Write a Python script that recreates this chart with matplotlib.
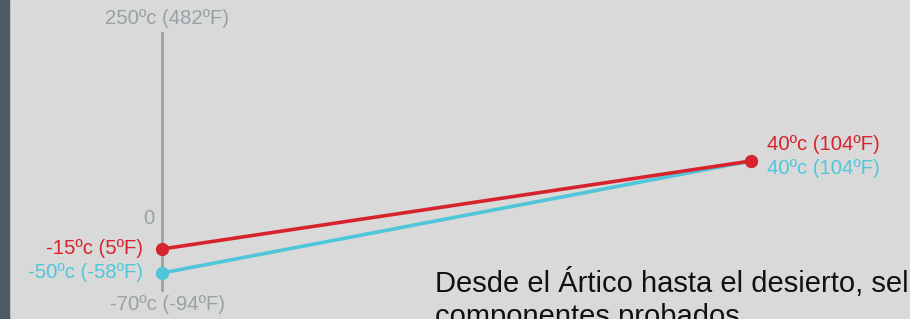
import numpy as np
import matplotlib
matplotlib.use("Agg")
import matplotlib.pyplot as plt
from matplotlib.patches import Rectangle

# data
points = ["start", "end"]
low_temp = [-50, 40]      # cyan series (ºc)
mid_temp = [-15, 40]      # red series (ºc)
low_labels = ["-50ºc (-58ºF)", "40ºc (104ºF)"]
mid_labels = ["-15ºc (5ºF)", "40ºc (104ºF)"]
axis_top = 250
axis_bottom = -70
axis_top_label = "250ºc (482ºF)"
axis_bottom_label = "-70ºc (-94ºF)"
caption = ["Desde el Ártico hasta el desierto, sel", "componentes probados"]

# the infographic axis is not linear, so map it piecewise
scale_vals = [-70, -50, -15, 0, 40, 250]
scale_pos = [0, 17, 41, 72, 129, 257]

def fwd(v):
    return np.interp(v, scale_vals, scale_pos)

def inv(p):
    return np.interp(p, scale_pos, scale_vals)

bg = "#d9d9d9"
red = "#d7232d"
cyan = "#50c6da"
grey = "#97a2a5"

plt.rcParams["font.family"] = ["Liberation Sans", "DejaVu Sans"]

W, H = 910, 319
fig = plt.figure(figsize=(W / 100, H / 100), dpi=100)
fig.patch.set_facecolor(bg)
fig.patches.append(Rectangle((0, 0), 9 / W, 1, transform=fig.transFigure,
                             color="#4b5b67", zorder=0))

ax = fig.add_axes([162 / W, (H - 290) / H, (751 - 162) / W, 257 / H])
ax.set_facecolor("none")
ax.set_yscale("function", functions=(fwd, inv))
ax.set_ylim(axis_bottom, axis_top)
ax.set_xlim(0, 1)
x = np.arange(len(points))

for s in ["top", "right", "bottom"]:
    ax.spines[s].set_visible(False)
ax.spines["left"].set_color(grey)
ax.spines["left"].set_linewidth(2)
ax.set_xticks([])
ax.set_yticks([])

ax.plot(x, low_temp, color=cyan, lw=2.6, marker="o", ms=8.5, clip_on=False, zorder=3)
ax.plot(x, mid_temp, color=red, lw=2.6, marker="o", ms=8.5, clip_on=False, zorder=4)

fs = 14.6
ax.annotate(axis_top_label, (0, axis_top), xytext=(5, 14), textcoords="offset pixels",
            ha="center", va="center", color=grey, fontsize=fs)
ax.annotate(axis_bottom_label, (0, axis_bottom), xytext=(6, -15), textcoords="offset pixels",
            ha="center", va="center", color=grey, fontsize=fs)
ax.annotate("0", (0, 0), xytext=(-8, 0), textcoords="offset pixels",
            ha="right", va="center", color=grey, fontsize=fs)

ax.annotate(mid_labels[0], (0, mid_temp[0]), xytext=(-19, 0), textcoords="offset pixels",
            ha="right", va="center", color=red, fontsize=fs)
ax.annotate(low_labels[0], (0, low_temp[0]), xytext=(-19, 0), textcoords="offset pixels",
            ha="right", va="center", color=cyan, fontsize=fs)
ax.annotate(mid_labels[1], (1, mid_temp[1]), xytext=(16, 16), textcoords="offset pixels",
            ha="left", va="center", color=red, fontsize=fs)
ax.annotate(low_labels[1], (1, low_temp[1]), xytext=(16, -7), textcoords="offset pixels",
            ha="left", va="center", color=cyan, fontsize=fs)

fig.text(435 / W, (H - 292.5) / H, caption[0], ha="left", va="baseline",
         color="#111111", fontsize=21)
fig.text(435 / W, (H - 325) / H, caption[1], ha="left", va="baseline",
         color="#111111", fontsize=21)

fig.savefig("out.png", dpi=100, facecolor=bg)
